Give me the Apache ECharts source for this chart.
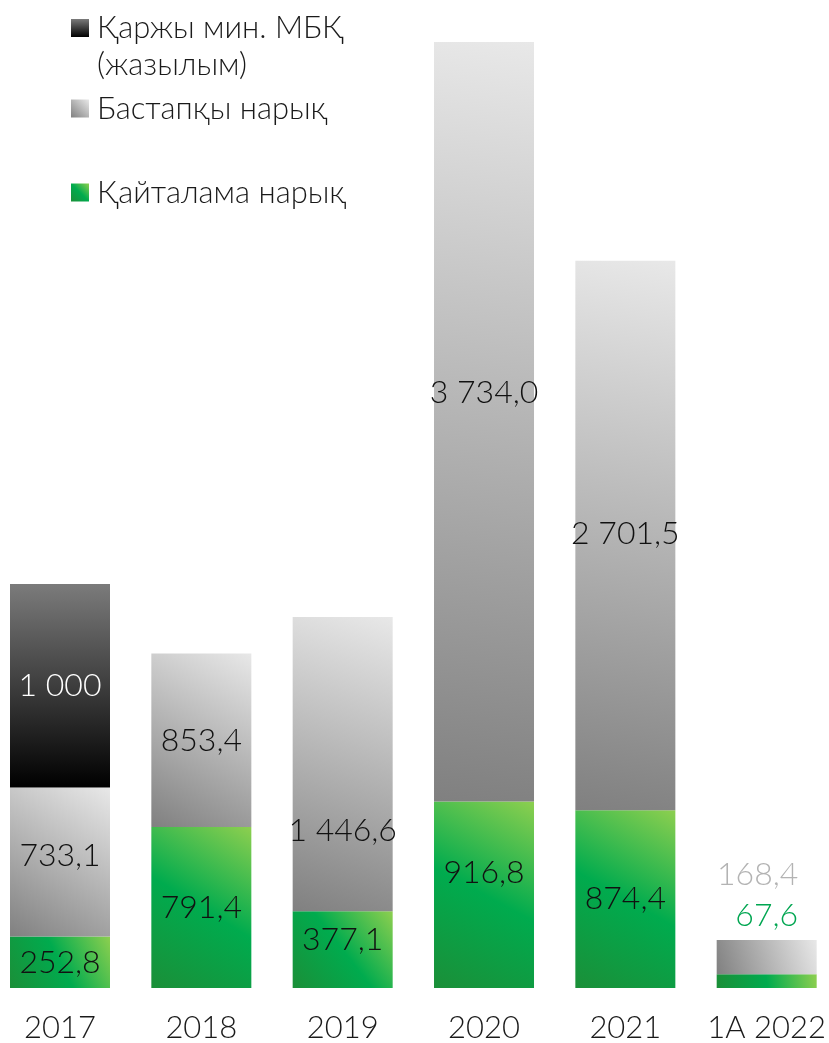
<!DOCTYPE html>
<html>
<head>
<meta charset="utf-8">
<title>chart</title>
<script src="https://cdn.jsdelivr.net/npm/echarts@6/dist/echarts.min.js"></script>
<style>
  html, body { margin: 0; padding: 0; background: #fff; }
  #chartMain { width: 829px; height: 1043px; }
</style>
</head>
<body>
<div id="chartMain"></div>
<script>
// years on the axis
var years = ['2017', '2018', '2019', '2020', '2021', '1A 2022'];
// series names
var nameMin = 'Қаржы мин. МБҚ (жазылым)';
var namePrimary = 'Бастапқы нарық';
var nameSecondary = 'Қайталама нарық';
// values
var secondaryVals = [252.8, 791.4, 377.1, 916.8, 874.4, 67.6];
var primaryVals = [733.1, 853.4, 1446.6, 3734.0, 2701.5, 168.4];
var minVals = [1000, null, null, null, null, null];

var fontFam = 'Lato, "Noto Sans", sans-serif';

function fmt(v, digits) {
  // 3734.0 -> "3 734,0", 1000 -> "1 000"
  var parts = v.toFixed(digits).split('.');
  var intPart = parts[0].replace(/\B(?=(\d{3})+(?!\d))/g, ' ');
  return parts.length > 1 ? intPart + ',' + parts[1] : intPart;
}

var grayGrad = new echarts.graphic.LinearGradient(1, 0, 0, 1, [
  { offset: 0, color: '#e8e8e8' },
  { offset: 1, color: '#808080' }
]);
var greenGrad = new echarts.graphic.LinearGradient(1, 0, 0, 1, [
  { offset: 0, color: '#8dcf4f' },
  { offset: 0.5, color: '#00ab4e' },
  { offset: 1, color: '#1b8f38' }
]);
var darkGrad = new echarts.graphic.LinearGradient(0, 0, 0, 1, [
  { offset: 0, color: '#7b7b7b' },
  { offset: 1, color: '#000000' }
]);

// label y shifts (px) for some bars
var secShift = [0, 0, -10, -22, 0, 0];
var primShift = [-6, 0, 67, -29, -2, 0];

var last = years.length - 1;

var secondaryData = secondaryVals.map(function(v, i) {
  var item = { value: v, label: { offset: [0, secShift[i]] } };
  if (i === last) {
    item.label = { position: ['50%', -59], offset: [0, 0], align: 'center',
      verticalAlign: 'middle', color: '#00a651' };
  }
  return item;
});
var primaryData = primaryVals.map(function(v, i) {
  var item = { value: v, label: { offset: [0, primShift[i]] } };
  if (i === last) {
    item.label = { position: ['50%', -65], offset: [-9, 0], align: 'center',
      verticalAlign: 'middle', color: '#b3b3b3' };
  }
  return item;
});
var minData = minVals.map(function(v) { return v == null ? '-' : v; });

var maxTotal = 0;
for (var i = 0; i < years.length; i++) {
  var t = secondaryVals[i] + primaryVals[i] + (minVals[i] || 0);
  if (t > maxTotal) maxTotal = t;
}

function makeLabel(digits, color) {
  return {
    show: true,
    position: 'inside',
    fontFamily: fontFam,
    fontWeight: 300,
    fontSize: 32,
    color: color,
    formatter: function(p) { return fmt(p.value, digits); }
  };
}

var legendText = {
  fontFamily: fontFam,
  fontWeight: 300,
  fontSize: 31,
  color: '#1a1a1a',
  lineHeight: 37,
  padding: [0, 0, 0, 3]
};

var option = {
  animation: false,
  backgroundColor: '#fff',
  grid: { left: 60, right: 59.5, top: 42, bottom: 55 },
  legend: [{
    data: [nameMin], orient: 'vertical', left: 71, top: -27.5, padding: 0,
    itemWidth: 18, itemHeight: 18, icon: 'rect', selectedMode: false,
    // blank first line keeps the icon level with the first text line
    formatter: function(n) { return '\u00a0\n' + n.replace(' (', '\n('); },
    textStyle: legendText
  }, {
    data: [namePrimary], orient: 'vertical', left: 71, top: 90, padding: 0,
    itemWidth: 18, itemHeight: 18, icon: 'rect', selectedMode: false,
    textStyle: legendText
  }, {
    data: [nameSecondary], orient: 'vertical', left: 71, top: 174, padding: 0,
    itemWidth: 18, itemHeight: 18, icon: 'rect', selectedMode: false,
    textStyle: legendText
  }],
  xAxis: {
    type: 'category',
    data: years,
    boundaryGap: false,
    axisLine: { show: false },
    axisTick: { show: false },
    axisLabel: {
      interval: 0,
      margin: 24,
      fontFamily: fontFam,
      fontWeight: 300,
      fontSize: 31,
      color: '#1a1a1a'
    }
  },
  yAxis: {
    type: 'value',
    min: 0,
    max: maxTotal,
    show: false,
    splitLine: { show: false }
  },
  series: [{
    name: nameSecondary,
    type: 'bar',
    stack: 'all',
    barWidth: 100,
    itemStyle: { color: greenGrad },
    label: makeLabel(1, '#111'),
    data: secondaryData
  }, {
    name: namePrimary,
    type: 'bar',
    stack: 'all',
    barWidth: 100,
    itemStyle: { color: grayGrad },
    label: makeLabel(1, '#111'),
    data: primaryData
  }, {
    name: nameMin,
    type: 'bar',
    stack: 'all',
    barWidth: 100,
    itemStyle: { color: darkGrad },
    label: makeLabel(0, '#fff'),
    data: minData
  }]
};

var myChart = echarts.init(document.getElementById('chartMain'));
myChart.setOption(option);
</script>
</body>
</html>
